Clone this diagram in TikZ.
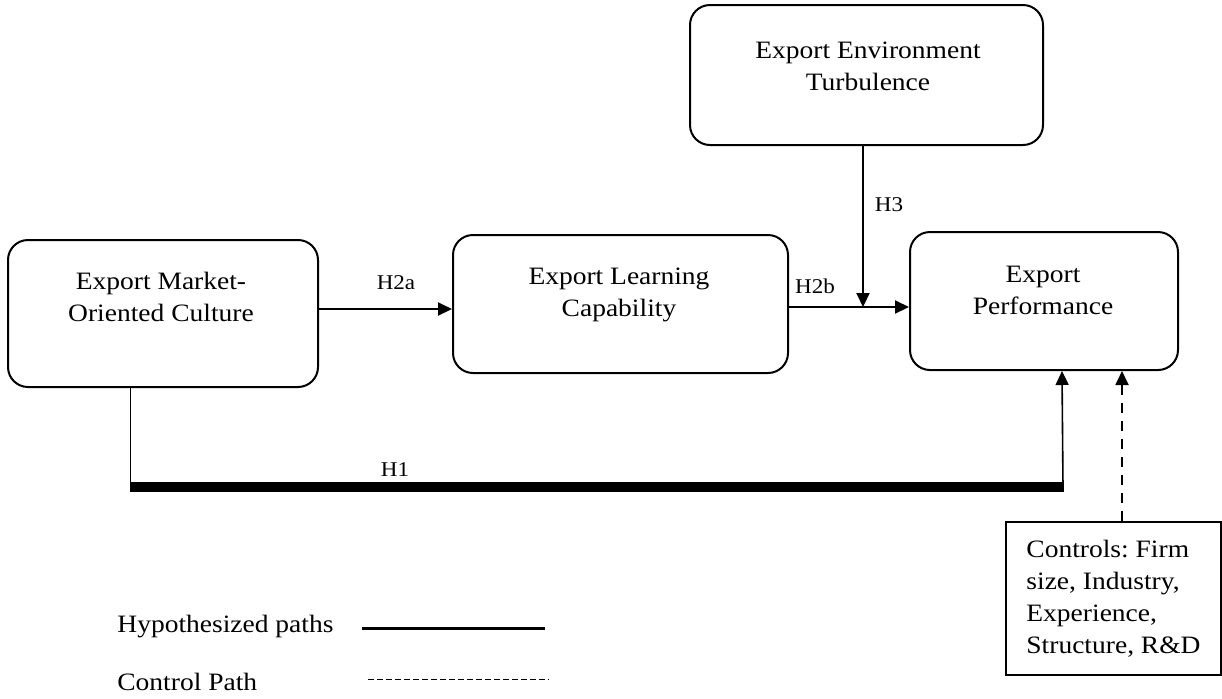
\documentclass[tikz,border=0pt]{standalone}
\usepackage{fontspec}
\setmainfont{Liberation Serif}[FakeStretch=1.1]
\usetikzlibrary{arrows.meta}
\frenchspacing
\tikzset{
  construct/.style={draw,line width=1pt,rounded corners=10pt,inner sep=0pt},
  contxt/.style={align=center,font=\fontsize{12.5}{16}\selectfont,inner sep=0pt},
  plabel/.style={font=\fontsize{10.5}{12}\selectfont,inner sep=0pt},
  hyp/.style={line width=1pt,-{Triangle[length=7pt,width=6.5pt]}},
  ctrlpath/.style={line width=0.9pt,dash pattern=on 5pt off 4pt,-{Triangle[length=7pt,width=6.5pt]}}
}

\begin{document}
\begin{tikzpicture}[x=0.5pt,y=-0.5pt]
\path[use as bounding box] (0,0) rectangle (1222,698);
\node[construct,minimum width=155pt,minimum height=73.5pt] (emoc) at (163,313.5) {};
\node[contxt] (emoc-txt) at (161,296.5) {Export Market-\\Oriented Culture};
\node[construct,minimum width=167.5pt,minimum height=69pt] (elc) at (620.5,304) {};
\node[contxt] (elc-txt) at (619,295) {Export Learning\\Capability};
\node[construct,minimum width=176.5pt,minimum height=70pt] (eet) at (866.5,75) {};
\node[contxt] (eet-txt) at (868,66.5) {Export Environment\\Turbulence};
\node[construct,minimum width=134pt,minimum height=69pt] (ep) at (1044,301) {};
\node[contxt] (ep-txt) at (1043,290.5) {Export\\Performance};
\node[draw,line width=0.8pt,align=left,minimum width=107.5pt,minimum height=76.5pt,font=\fontsize{12.5}{16}\selectfont] (controls) at (1113.5,598.5) {Controls: Firm\\size, Industry,\\Experience,\\Structure, R\&D};
\coordinate (h3end) at (863,307);
\coordinate (h1a) at (130,487);
\coordinate (h1b) at (1064,487);
\draw[hyp] ([yshift=2.25pt]emoc.east) -- ([yshift=-2.5pt]elc.west);
\draw[hyp] ([yshift=-1.5pt]elc.east) -- ([yshift=-3pt]ep.west);
\draw[hyp] ([xshift=-1.75pt]eet.south) -- (h3end);
\draw[line width=0.5pt] ([xshift=-16.5pt]emoc.south) -- (h1a);
\draw[line width=5pt] (h1a) -- (h1b);
\draw[hyp,line width=0.8pt] ([xshift=-0.5pt]h1b) -- ([xshift=9pt]ep.south);
\draw[ctrlpath] ([xshift=4.25pt]controls.north) -- ([xshift=39pt]ep.south);
\node[plabel] (h2a) at (396,283) {H2a};
\node[plabel] (h2b) at (815,286) {H2b};
\node[plabel] (h3) at (889,205) {H3};
\node[plabel] (h1) at (395,470) {H1};
\node[contxt,anchor=base west] (leg-hyp) at (117,632) {Hypothesized paths};
\node[contxt,anchor=base west] (leg-ctl) at (117,690) {Control Path};
\coordinate (hyp-a) at (362,628);
\coordinate (hyp-b) at (545,628);
\coordinate (ctl-a) at (368,679);
\coordinate (ctl-b) at (549,679);
\draw[line width=1.5pt] (hyp-a) -- (hyp-b);
\draw[line width=0.5pt,dash pattern=on 2.75pt off 1.75pt] (ctl-a) -- (ctl-b);
\end{tikzpicture}
\end{document}
